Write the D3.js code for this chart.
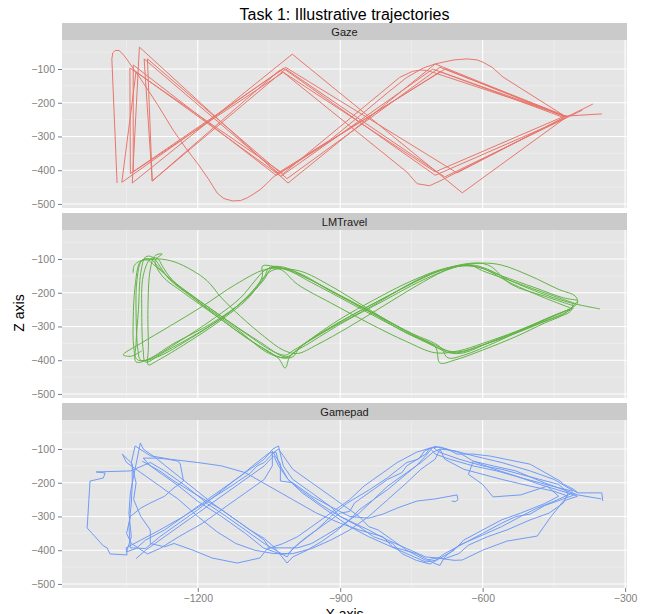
<!DOCTYPE html>
<html lang="en">
<head>
    <meta charset="UTF-8">
    <title>Task 1: Illustrative trajectories</title>
    <style>
        body {
            margin: 0;
            padding: 0;
            background: #ffffff;
            font-family: "Liberation Sans", Arial, sans-serif;
            overflow: hidden;
        }
    </style>
    <script src="https://d3js.org/d3.v7.min.js"></script>
</head>
<body>
    <div id="chart"></div>

    <script>
        // Facets and their line colours
        const facets = ["Gaze", "LMTravel", "Gamepad"];
        const facetColors = ["#E8766C", "#62B445", "#6F9BF7"];

        const xTicks = [-1200, -900, -600, -300];
        const xMinor = [-1350, -1050, -750, -450];
        const zTicks = [-100, -200, -300, -400, -500];
        const zMinor = [-50, -150, -250, -350, -450];

        // Gaze trajectories, [x, z] pairs
        const gazeTracks = [
            [[-368,-204],[-423,-242],[-700,-85],[-1010,-438],[-1323,-35],[-1338,-438],[-1001,-56],[-643,-467],[-423,-242]],
            [[-349,-233],[-430,-240],[-679,-100],[-1031,-408],[-1313,-70],[-1296,-432],[-1027,-103],[-700,-405],[-425,-238]],
            [[-420,-243],[-690,-108],[-1035,-415],[-1336,-88],[-1336,-405],[-1020,-110],[-760,-405],[-738,-440],[-712,-446],[-690,-432],[-430,-245]],
            [[-1370,-438],[-1381,-70],[-1379,-52],[-1374,-45],[-1366,-45],[-1355,-60],[-1320,-130],[-1285,-205],[-1252,-281],[-1225,-335],[-1201,-379],[-1178,-425],[-1159,-468],[-1145,-484],[-1127,-491],[-1110,-490],[-1096,-482],[-1082,-470],[-1069,-458],[-1055,-440],[-1041,-420],[-1000,-385],[-960,-345],[-921,-310],[-860,-240],[-800,-170],[-760,-125],[-725,-97],[-700,-85],[-684,-80],[-660,-73],[-633,-70],[-612,-73],[-599,-80],[-580,-95],[-557,-124],[-431,-236]],
            [[-425,-240],[-700,-112],[-718,-104],[-731,-103],[-748,-107],[-775,-125],[-1020,-410],[-1343,-97],[-1342,-410],[-1015,-95],[-654,-408],[-428,-243]],
            [[-420,-242],[-690,-95],[-1012,-425],[-1306,-70],[-1296,-432],[-1015,-100],[-680,-420],[-420,-242],[-390,-222]],
            [[-425,-246],[-705,-100],[-1025,-418],[-1330,-108],[-1360,-436],[-1020,-98],[-700,-415],[-425,-246]]
        ];

        // LMTravel trajectories (smooth)
        const lmTracks = [
            [[-353,-248],[-420,-228],[-480,-200],[-540,-165],[-590,-130],[-620,-118],[-660,-122],[-720,-150],[-800,-210],[-880,-270],[-950,-330],[-1000,-372],[-1015,-385],[-1040,-375],[-1100,-320],[-1170,-250],[-1240,-180],[-1290,-120],[-1310,-100],[-1322,-110],[-1332,-180],[-1336,-280],[-1335,-360],[-1328,-398],[-1310,-400],[-1250,-350],[-1170,-290],[-1100,-220],[-1060,-160],[-1045,-128],[-1020,-128],[-960,-170],[-880,-230],[-800,-290],[-730,-340],[-680,-370],[-650,-375],[-600,-355],[-530,-320],[-460,-280],[-415,-255],[-410,-232]],
            [[-405,-232],[-460,-205],[-530,-170],[-600,-135],[-627,-118],[-660,-125],[-730,-165],[-810,-225],[-890,-285],[-960,-345],[-1005,-387],[-1016,-423],[-1030,-395],[-1090,-340],[-1160,-270],[-1230,-200],[-1275,-150],[-1290,-105],[-1275,-85],[-1290,-90],[-1300,-130],[-1305,-250],[-1304,-360],[-1304,-414],[-1290,-405],[-1230,-355],[-1150,-280],[-1090,-210],[-1064,-150],[-1064,-121],[-1040,-122],[-980,-150],[-900,-210],[-820,-270],[-750,-320],[-690,-360],[-673,-393],[-640,-385],[-570,-345],[-500,-300],[-440,-262],[-410,-245]],
            [[-410,-238],[-470,-210],[-540,-175],[-584,-121],[-610,-112],[-650,-118],[-700,-140],[-780,-195],[-860,-255],[-930,-310],[-985,-362],[-1000,-390],[-1025,-392],[-1080,-350],[-1150,-280],[-1210,-215],[-1260,-160],[-1296,-94],[-1310,-94],[-1320,-140],[-1325,-250],[-1330,-350],[-1330,-405],[-1300,-395],[-1240,-345],[-1165,-275],[-1110,-215],[-1080,-165],[-1060,-135],[-1040,-125],[-990,-140],[-920,-195],[-840,-255],[-760,-320],[-700,-360],[-690,-408],[-660,-400],[-600,-370],[-530,-330],[-470,-290],[-430,-265],[-400,-225]],
            [[-1336,-141],[-1334,-120],[-1322,-106],[-1300,-102],[-1280,-100],[-1250,-108],[-1210,-135],[-1180,-165],[-1150,-215],[-1110,-270],[-1060,-330],[-1020,-370],[-990,-380],[-950,-355],[-880,-300],[-810,-240],[-740,-180],[-680,-135],[-640,-118],[-600,-112],[-560,-118],[-500,-150],[-440,-190],[-405,-210],[-400,-230],[-420,-250],[-460,-275],[-530,-315],[-600,-350],[-650,-372],[-700,-378],[-760,-345],[-840,-290],[-920,-230],[-990,-175],[-1027,-130],[-1060,-132],[-1120,-175],[-1190,-240],[-1260,-300],[-1320,-350],[-1357,-384],[-1340,-388],[-1318,-372]],
            [[-400,-222],[-430,-215],[-490,-185],[-560,-150],[-610,-124],[-640,-120],[-690,-135],[-760,-180],[-840,-245],[-920,-305],[-975,-350],[-995,-375],[-1015,-390],[-1070,-345],[-1140,-280],[-1205,-215],[-1255,-160],[-1275,-120],[-1285,-98],[-1300,-100],[-1315,-150],[-1318,-260],[-1315,-370],[-1310,-405],[-1270,-375],[-1200,-320],[-1130,-255],[-1085,-195],[-1055,-145],[-1035,-130],[-984,-136],[-920,-180],[-850,-240],[-780,-300],[-720,-345],[-670,-378],[-640,-378],[-590,-350],[-520,-310],[-455,-270],[-418,-250]],
            [[-415,-245],[-470,-215],[-540,-172],[-600,-128],[-635,-120],[-680,-128],[-750,-165],[-830,-222],[-900,-278],[-955,-330],[-990,-368],[-1012,-392],[-1050,-380],[-1120,-305],[-1190,-235],[-1250,-170],[-1282,-125],[-1300,-100],[-1318,-105],[-1328,-160],[-1330,-260],[-1326,-370],[-1320,-400],[-1285,-390],[-1215,-335],[-1140,-265],[-1090,-205],[-1060,-155],[-1050,-126],[-1020,-124],[-965,-160],[-890,-215],[-810,-275],[-745,-325],[-700,-355],[-658,-378],[-610,-360],[-545,-325],[-480,-290],[-430,-262],[-408,-245]]
        ];

        // Gamepad trajectories (jagged)
        const gamepadTracks = [
            [[-347,-254],[-349,-230],[-399,-230],[-409,-219],[-430,-204],[-437,-195],[-500,-145],[-584,-121],[-620,-115],[-654,-115],[-675,-100],[-690,-94],[-711,-97],[-720,-115],[-760,-150],[-770,-170],[-800,-190],[-830,-220],[-870,-260],[-880,-285],[-900,-290],[-940,-330],[-975,-365],[-1000,-395],[-1012,-420],[-1030,-405],[-1060,-380],[-1100,-340],[-1140,-300],[-1180,-262],[-1190,-250],[-1230,-205],[-1270,-165],[-1300,-140],[-1342,-165],[-1414,-168],[-1395,-171],[-1399,-186],[-1427,-195],[-1433,-334],[-1399,-387],[-1391,-393],[-1385,-411],[-1349,-414],[-1351,-393],[-1320,-370],[-1280,-340],[-1230,-300],[-1180,-255],[-1130,-210],[-1090,-172],[-1075,-150],[-1060,-140],[-1040,-110],[-1030,-100],[-1020,-120],[-1000,-160],[-960,-200],[-910,-250],[-860,-300],[-840,-330],[-820,-340],[-790,-370],[-760,-400],[-720,-430],[-697,-423],[-660,-430],[-643,-429],[-600,-400],[-549,-373],[-485,-358],[-458,-304],[-430,-254],[-400,-240]],
            [[-350,-248],[-400,-236],[-470,-200],[-530,-165],[-578,-150],[-620,-136],[-650,-110],[-700,-92],[-722,-105],[-735,-130],[-760,-140],[-800,-185],[-840,-222],[-885,-260],[-920,-300],[-950,-340],[-985,-378],[-1010,-410],[-1025,-412],[-1062,-393],[-1100,-350],[-1150,-300],[-1200,-255],[-1240,-210],[-1275,-175],[-1300,-150],[-1315,-127],[-1285,-127],[-1264,-130],[-1241,-136],[-1237,-144],[-1230,-195],[-1250,-215],[-1270,-240],[-1300,-260],[-1320,-275],[-1342,-300],[-1350,-350],[-1340,-380],[-1306,-411],[-1280,-395],[-1240,-360],[-1190,-320],[-1140,-270],[-1100,-230],[-1060,-190],[-1043,-150],[-1043,-106],[-1026,-144],[-1026,-195],[-1000,-200],[-960,-240],[-921,-270],[-880,-300],[-840,-305],[-810,-293],[-780,-275],[-738,-254],[-700,-248],[-654,-236],[-652,-250],[-658,-256],[-665,-254]],
            [[-402,-238],[-440,-222],[-480,-205],[-530,-180],[-575,-160],[-620,-136],[-630,-175],[-600,-205],[-578,-242],[-520,-236],[-464,-210],[-440,-240],[-470,-262],[-520,-290],[-560,-310],[-600,-340],[-640,-370],[-660,-400],[-711,-441],[-740,-430],[-770,-410],[-790,-380],[-830,-360],[-860,-330],[-900,-300],[-921,-270],[-960,-230],[-1000,-190],[-1020,-150],[-1030,-91],[-1042,-100],[-1060,-130],[-1090,-160],[-1120,-190],[-1160,-235],[-1200,-280],[-1240,-320],[-1280,-360],[-1310,-395],[-1342,-393],[-1345,-330],[-1340,-260],[-1338,-200],[-1338,-144],[-1359,-115],[-1350,-140],[-1320,-170],[-1280,-210],[-1240,-250],[-1200,-300],[-1160,-345],[-1120,-380],[-1080,-400],[-1040,-410],[-1000,-410],[-960,-395],[-920,-370],[-880,-340],[-840,-300],[-800,-250],[-760,-200],[-730,-160],[-700,-130],[-690,-100],[-680,-130],[-640,-160],[-560,-190],[-500,-210],[-450,-225],[-420,-240]],
            [[-405,-235],[-430,-248],[-470,-268],[-500,-293],[-530,-300],[-560,-320],[-600,-350],[-640,-380],[-680,-410],[-700,-430],[-720,-435],[-760,-410],[-800,-385],[-840,-360],[-880,-330],[-910,-300],[-940,-270],[-980,-230],[-1010,-190],[-1030,-140],[-1035,-110],[-1050,-112],[-1080,-145],[-1110,-180],[-1150,-220],[-1190,-260],[-1230,-300],[-1270,-340],[-1310,-370],[-1330,-395],[-1350,-405],[-1340,-360],[-1345,-290],[-1342,-230],[-1335,-180],[-1321,-82],[-1315,-100],[-1290,-125],[-1250,-170],[-1210,-215],[-1170,-260],[-1130,-300],[-1090,-340],[-1060,-370],[-1050,-393],[-1020,-393],[-990,-393],[-960,-380],[-930,-355],[-900,-330],[-860,-290],[-830,-250],[-800,-210],[-760,-170],[-730,-140],[-705,-110],[-690,-100],[-660,-105],[-620,-120],[-560,-140],[-500,-165],[-450,-190],[-420,-215],[-400,-230]],
            [[-410,-230],[-450,-255],[-485,-275],[-520,-300],[-560,-330],[-600,-355],[-650,-385],[-680,-420],[-690,-445],[-700,-440],[-740,-410],[-790,-390],[-810,-360],[-860,-340],[-900,-320],[-950,-290],[-1000,-250],[-1050,-210],[-1100,-170],[-1150,-150],[-1200,-140],[-1260,-130],[-1300,-120],[-1332,-91],[-1340,-140],[-1330,-200],[-1335,-250],[-1320,-300],[-1300,-340],[-1300,-380],[-1270,-390],[-1250,-380],[-1210,-400],[-1170,-423],[-1117,-438],[-1069,-423],[-1054,-396],[-1020,-380],[-990,-360],[-960,-330],[-920,-290],[-880,-250],[-850,-210],[-810,-170],[-780,-140],[-740,-110],[-711,-97],[-700,-115],[-670,-130],[-620,-150],[-570,-165],[-520,-185],[-480,-200],[-440,-215],[-410,-225]],
            [[-1317,-136],[-1280,-165],[-1250,-195],[-1215,-225],[-1180,-255],[-1150,-280],[-1120,-310],[-1090,-340],[-1060,-365],[-1040,-390],[-1012,-438],[-1000,-420],[-970,-400],[-940,-375],[-910,-345],[-880,-310],[-860,-280],[-830,-250],[-800,-220],[-770,-185],[-740,-150],[-720,-120],[-705,-95],[-690,-110],[-650,-130],[-600,-150],[-560,-160],[-520,-175],[-480,-190],[-440,-205],[-420,-230],[-430,-260],[-460,-290],[-500,-310],[-549,-340],[-590,-360],[-630,-385],[-650,-410],[-680,-425],[-720,-420],[-760,-395],[-800,-370],[-840,-340],[-870,-320],[-900,-300],[-940,-265],[-980,-225],[-1010,-190],[-1030,-150],[-1040,-120],[-1060,-150],[-1100,-190],[-1140,-230],[-1180,-270],[-1220,-310],[-1260,-350],[-1290,-380],[-1310,-400],[-1330,-425]]
        ];

        const trackSets = [gazeTracks, lmTracks, gamepadTracks];

        // Layout
        const width = 645;
        const height = 614;
        const panelLeft = 62;
        const panelRight = 627;
        const firstStripTop = 23;
        const stripH = 17;
        const panelH = 168;
        const gap = 5;

        const svg = d3.select("#chart")
            .append("svg")
            .attr("width", width)
            .attr("height", height);

        const x = d3.scaleLinear()
            .domain([-1486, -296])
            .range([panelLeft, panelRight]);

        // Title
        svg.append("text")
            .attr("x", (panelLeft + panelRight) / 2)
            .attr("y", 20)
            .attr("text-anchor", "middle")
            .style("font-size", "16px")
            .style("fill", "#000")
            .text("Task 1: Illustrative trajectories");

        facets.forEach((name, i) => {
            const stripTop = firstStripTop + i * (stripH + panelH + gap);
            const top = stripTop + stripH;

            const z = d3.scaleLinear()
                .domain([-512, -14])
                .range([top + panelH, top]);

            // strip
            svg.append("rect")
                .attr("x", panelLeft)
                .attr("y", stripTop)
                .attr("width", panelRight - panelLeft)
                .attr("height", stripH)
                .attr("fill", "#CACACA");

            svg.append("text")
                .attr("x", (panelLeft + panelRight) / 2)
                .attr("y", stripTop + stripH / 2 + 4)
                .attr("text-anchor", "middle")
                .style("font-size", "11px")
                .style("fill", "#1a1a1a")
                .text(name);

            // panel background
            svg.append("rect")
                .attr("x", panelLeft)
                .attr("y", top)
                .attr("width", panelRight - panelLeft)
                .attr("height", panelH)
                .attr("fill", "#E5E5E5");

            const grid = svg.append("g");

            grid.selectAll(".vmin")
                .data(xMinor)
                .join("line")
                .attr("x1", d => x(d)).attr("x2", d => x(d))
                .attr("y1", top).attr("y2", top + panelH)
                .attr("stroke", "#F2F2F2").attr("stroke-width", 0.6);

            grid.selectAll(".hmin")
                .data(zMinor)
                .join("line")
                .attr("x1", panelLeft).attr("x2", panelRight)
                .attr("y1", d => z(d)).attr("y2", d => z(d))
                .attr("stroke", "#F2F2F2").attr("stroke-width", 0.6);

            grid.selectAll(".vmaj")
                .data(xTicks)
                .join("line")
                .attr("x1", d => x(d)).attr("x2", d => x(d))
                .attr("y1", top).attr("y2", top + panelH)
                .attr("stroke", "#ffffff").attr("stroke-width", 1.1);

            grid.selectAll(".hmaj")
                .data(zTicks)
                .join("line")
                .attr("x1", panelLeft).attr("x2", panelRight)
                .attr("y1", d => z(d)).attr("y2", d => z(d))
                .attr("stroke", "#ffffff").attr("stroke-width", 1.1);

            // z axis
            const zAxis = d3.axisLeft(z)
                .tickValues(zTicks)
                .tickSize(4)
                .tickPadding(3)
                .tickFormat(d => d3.format("d")(d).replace("-", "\u2212"));

            const zg = svg.append("g")
                .attr("transform", `translate(${panelLeft},0)`)
                .call(zAxis);
            zg.select(".domain").remove();
            zg.selectAll("line").attr("stroke", "#7F7F7F");
            zg.selectAll("text")
                .style("font-size", "10.5px")
                .style("font-family", "'Liberation Sans', Arial, sans-serif")
                .attr("fill", "#7F7F7F");

            // trajectories
            const line = d3.line()
                .x(d => x(d[0]))
                .y(d => z(d[1]))
                .curve(i === 1 ? d3.curveCatmullRom.alpha(0.5) : d3.curveLinear);

            svg.append("g")
                .selectAll("path")
                .data(trackSets[i])
                .join("path")
                .attr("d", line)
                .attr("fill", "none")
                .attr("stroke", facetColors[i])
                .attr("stroke-width", 1)
                .attr("stroke-linejoin", "round");

            if (i === facets.length - 1) {
                const xAxis = d3.axisBottom(x)
                    .tickValues(xTicks)
                    .tickSize(4)
                    .tickPadding(3)
                    .tickFormat(d => d3.format("d")(d).replace("-", "\u2212"));

                const xg = svg.append("g")
                    .attr("transform", `translate(0,${top + panelH})`)
                    .call(xAxis);
                xg.select(".domain").remove();
                xg.selectAll("line").attr("stroke", "#7F7F7F");
                xg.selectAll("text")
                    .style("font-size", "10.5px")
                    .style("font-family", "'Liberation Sans', Arial, sans-serif")
                    .attr("fill", "#7F7F7F");
            }
        });

        // axis titles
        svg.append("text")
            .attr("transform", "translate(24,313) rotate(-90)")
            .attr("text-anchor", "middle")
            .style("font-size", "14px")
            .text("Z axis");

        svg.append("text")
            .attr("x", (panelLeft + panelRight) / 2)
            .attr("y", 619)
            .attr("text-anchor", "middle")
            .style("font-size", "14px")
            .text("X axis");
    </script>
</body>
</html>
